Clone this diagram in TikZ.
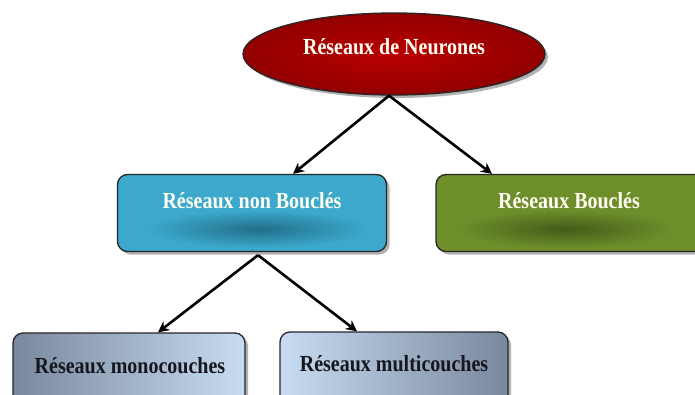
\documentclass[tikz,border=0pt]{standalone}
\usepackage{fontspec}
\setmainfont{Liberation Serif}
\usetikzlibrary{shapes.geometric,shadows,arrows.meta}

\definecolor{redIn}{HTML}{BA0000}
\definecolor{redOut}{HTML}{920000}
\definecolor{cyanFill}{HTML}{3CA9CC}
\definecolor{cyanDeep}{HTML}{226F8A}
\definecolor{oliveFill}{HTML}{6E8E2B}
\definecolor{oliveDeep}{HTML}{435C18}
\definecolor{steelDark}{HTML}{7A889E}
\definecolor{steelLight}{HTML}{C8DCF1}
\definecolor{inkDark}{HTML}{16161F}

\newcommand{\tallword}[1]{\scalebox{1}[1.15]{#1}}

\tikzset{
  boxshadow/.style={drop shadow={shadow xshift=3pt,shadow yshift=-3pt,fill=black!55,opacity=0.55}},
  border/.style={draw=black!85,line width=1.3pt},
  catbox/.style={border,boxshadow,rectangle,rounded corners=10pt,inner sep=0pt},
  lbl/.style={font=\bfseries\fontsize{20}{22}\selectfont,inner sep=0pt},
  link/.style={line width=2.6pt,-{Stealth[length=11pt,width=11pt]}},
}

\begin{document}
\begin{tikzpicture}[x=1pt,y=-1pt]
\clip (0,0) rectangle (695,394);
\fill[white] (0,0) rectangle (695,394);

% root ellipse
\node[ellipse,border,boxshadow,inner color=redIn,outer color=redOut,
      minimum width=302pt,minimum height=82pt,inner sep=0pt] (root) at (394,54) {};
\node[lbl,text=white!95!yellow] (rootlbl) at (394,47) {\tallword{Réseaux de Neurones}};

% second level
\node[catbox,fill=cyanFill,minimum width=269pt,minimum height=77pt] (nb) at (252,213) {};
\shade[inner color=cyanDeep,outer color=cyanFill] (258,229) ellipse [x radius=112pt,y radius=19pt];
\node[lbl,text=white!95!yellow] (nblbl) at (252,201) {\tallword{Réseaux non Bouclés}};

\node[catbox,fill=oliveFill,minimum width=290pt,minimum height=77pt] (bc) at (581,213) {};
\shade[inner color=oliveDeep,outer color=oliveFill] (565,229) ellipse [x radius=108pt,y radius=19pt];
\node[lbl,text=white!95!yellow] (bclbl) at (569,201) {\tallword{Réseaux Bouclés}};

% third level
\node[catbox,left color=steelDark,right color=steelLight,minimum width=232pt,minimum height=90pt] (mono) at (129,378) {};
\node[lbl,text=inkDark] (monolbl) at (130,366) {\tallword{Réseaux monocouches}};

\node[catbox,left color=steelLight,right color=steelDark,minimum width=228pt,minimum height=90pt] (multi) at (394,377) {};
\node[lbl,text=inkDark] (multilbl) at (394,364) {\tallword{Réseaux multicouches}};

% connectors
\draw[link] ([xshift=-5pt]root.south) -- ([xshift=41pt]nb.north);
\draw[link] ([xshift=-5pt]root.south) -- ([xshift=-89pt]bc.north);
\draw[link] ([xshift=6pt,yshift=-3pt]nb.south) -- ([xshift=29pt]mono.north);
\draw[link] ([xshift=6pt,yshift=-3pt]nb.south) -- ([xshift=-37pt]multi.north);
\end{tikzpicture}
\end{document}
